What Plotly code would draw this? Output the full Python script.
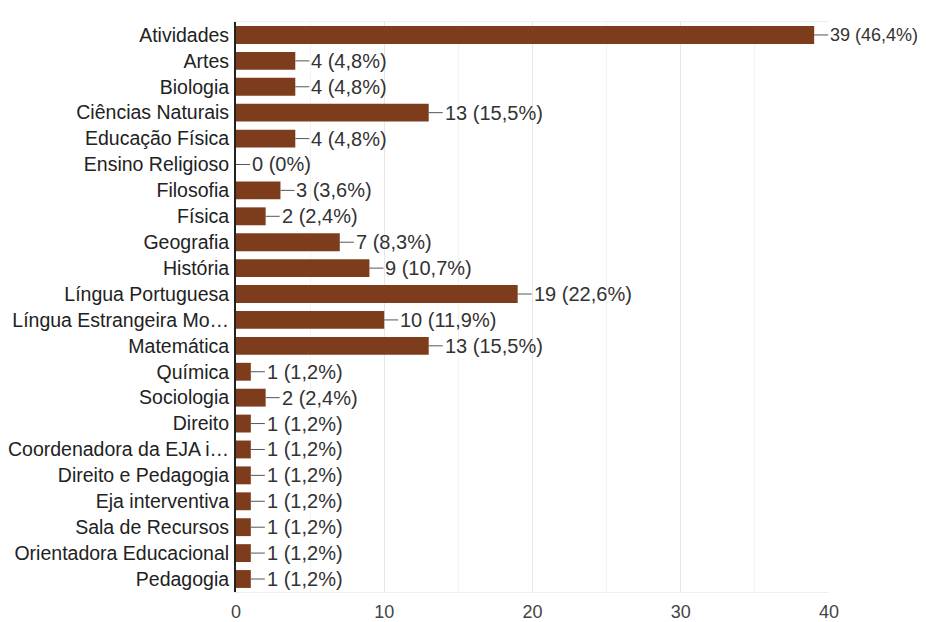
import plotly.graph_objects as go

categories = ["Atividades", "Artes", "Biologia", "Ciências Naturais", "Educação Física",
              "Ensino Religioso", "Filosofia", "Física", "Geografia", "História",
              "Língua Portuguesa", "Língua Estrangeira Mo…", "Matemática", "Química",
              "Sociologia", "Direito", "Coordenadora da EJA i…", "Direito e Pedagogia",
              "Eja interventiva", "Sala de Recursos", "Orientadora Educacional", "Pedagogia"]
counts = [39, 4, 4, 13, 4, 0, 3, 2, 7, 9, 19, 10, 13, 1, 2, 1, 1, 1, 1, 1, 1, 1]
percents = ["46,4%", "4,8%", "4,8%", "15,5%", "4,8%", "0%", "3,6%", "2,4%", "8,3%", "10,7%",
            "22,6%", "11,9%", "15,5%", "1,2%", "2,4%", "1,2%", "1,2%", "1,2%", "1,2%",
            "1,2%", "1,2%", "1,2%"]
tick_vals = [0, 10, 20, 30, 40]

BAR = "#7d3d1d"
FONT = "Liberation Sans, Arial, sans-serif"

fig = go.Figure(go.Bar(
    x=counts, y=categories, orientation="h",
    marker=dict(color=BAR, line=dict(width=0)),
    width=0.69, hoverinfo="skip",
))

max_v = max(counts)
for c, v, p in zip(categories, counts, percents):
    fig.add_annotation(
        x=v, y=c, xref="x", yref="y",
        text=f"{v} ({p})", showarrow=True, arrowhead=0, arrowwidth=1,
        arrowcolor="#555555", ax=14, ay=0, standoff=0, startstandoff=0,
        xanchor="left", yanchor="middle",
        font=dict(family=FONT, size=18 if v == max_v else 20, color="#333333"),
    )

fig.update_layout(
    width=918, height=614,
    margin=dict(l=228, r=97, t=14, b=30, autoexpand=False),
    paper_bgcolor="white", plot_bgcolor="white",
    showlegend=False,
    font=dict(family=FONT, size=19.5, color="#222222"),
)
fig.update_xaxes(
    range=[0, 40], tickvals=tick_vals, ticks="",
    showgrid=True, gridcolor="#e6e6e6", gridwidth=1,
    minor=dict(dtick=5, showgrid=True, gridcolor="#f3f3f3"),
    showline=True, linecolor="#eeeeee", mirror=True,
    zeroline=False, tickfont=dict(size=18, color="#444444"),
    ticklabelstandoff=3, fixedrange=True, automargin=False,
)
fig.update_yaxes(
    categoryorder="array", categoryarray=categories, autorange="reversed",
    ticks="", showgrid=False, showline=True, linecolor="#222222", linewidth=2,
    zeroline=False, tickfont=dict(size=19.5, color="#222222"),
    ticklabelstandoff=1, fixedrange=True, automargin=False,
)

fig.write_html("out.html")
